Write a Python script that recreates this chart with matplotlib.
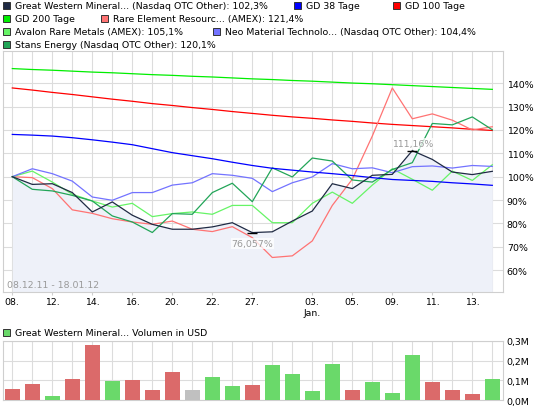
import matplotlib
matplotlib.use('Agg')
import matplotlib.pyplot as plt
from matplotlib.patches import Rectangle

W, H, DPI = 545, 410, 100

# ---------------- data ----------------
n_days = 25
tick_pos = [0, 2, 4, 6, 8, 10, 12, 15, 17, 19, 21, 23]
tick_labels = ['08.', '12.', '14.', '16.', '20.', '22.', '27.', '03.\nJan.', '05.', '09.', '11.', '13.']

great_western = [100, 96.7, 97.0, 93.2, 84.9, 89.2, 83.5, 79.6, 77.5, 77.5, 78.5, 80.3, 76.057,
                 76.4, 81.0, 85.3, 97.0, 94.9, 100.6, 101.0, 111.16, 107.4, 102.0, 100.9, 102.3]
rare_element = [100, 99.6, 94.9, 85.8, 84.3, 82.0, 80.6, 79.6, 81.0, 77.5, 76.5, 78.6, 73.9,
                65.4, 66.1, 72.5, 87.7, 98.9, 117.4, 138.0, 124.8, 126.9, 124.2, 120.0, 121.4]
avalon = [100, 102.4, 97.7, 92.5, 89.6, 87.0, 88.6, 82.9, 84.2, 84.9, 83.9, 87.7, 87.7,
          80.3, 80.3, 88.6, 93.4, 88.6, 96.4, 103.4, 98.9, 94.2, 102.4, 98.4, 105.1]
neo_material = [100, 103.4, 101.3, 98.1, 91.3, 89.9, 93.2, 93.2, 96.4, 97.4, 101.3, 100.6, 99.3,
                93.6, 97.4, 99.9, 105.6, 103.4, 103.8, 101.7, 104.3, 104.6, 103.7, 104.8, 104.4]
stans = [100, 94.6, 93.9, 92.0, 89.6, 83.2, 80.6, 76.1, 84.2, 83.9, 93.2, 97.2, 89.3,
         103.8, 99.9, 108.0, 106.7, 98.6, 97.7, 103.1, 106.0, 122.8, 122.2, 125.6, 120.1]
gd38 = [118.1, 117.8, 117.4, 116.7, 115.8, 114.8, 113.7, 112.0, 110.3, 109.0, 107.7, 106.2, 104.8,
        103.6, 102.8, 102.0, 101.3, 100.5, 99.6, 98.8, 98.4, 98.0, 97.4, 96.9, 96.3]
gd100 = [138.0, 137.1, 136.1, 135.2, 134.2, 133.2, 132.3, 131.3, 130.5, 129.6, 128.8, 127.9, 127.1,
         126.3, 125.6, 125.0, 124.3, 123.7, 123.0, 122.4, 121.9, 121.4, 120.9, 120.3, 119.8]
gd200 = [146.3, 145.9, 145.6, 145.2, 144.8, 144.5, 144.1, 143.7, 143.4, 143.0, 142.7, 142.3, 141.9,
         141.6, 141.2, 140.9, 140.5, 140.1, 139.8, 139.4, 139.0, 138.6, 138.2, 137.8, 137.4]

volume_musd = [0.058, 0.083, 0.023, 0.108, 0.278, 0.095, 0.103, 0.053, 0.140, 0.053, 0.115, 0.070, 0.075,
               0.178, 0.133, 0.045, 0.185, 0.053, 0.090, 0.038, 0.230, 0.090, 0.050, 0.033, 0.108]
volume_dir = ['down', 'down', 'up', 'down', 'down', 'up', 'down', 'down', 'down', 'flat', 'up', 'up', 'down',
              'up', 'up', 'up', 'up', 'down', 'up', 'up', 'up', 'down', 'down', 'down', 'up']

name_main = 'Great Western Mineral... (Nasdaq OTC Other): 102,3%'
name_gd38 = 'GD 38 Tage'
name_gd100 = 'GD 100 Tage'
name_gd200 = 'GD 200 Tage'
name_rare = 'Rare Element Resourc... (AMEX): 121,4%'
name_avalon = 'Avalon Rare Metals (AMEX): 105,1%'
name_neo = 'Neo Material Technolo... (Nasdaq OTC Other): 104,4%'
name_stans = 'Stans Energy (Nasdaq OTC Other): 120,1%'
name_volume = 'Great Western Mineral... Volumen in USD'
date_range = '08.12.11 - 18.01.12'

# ---------------- style ----------------
C_MAIN = '#1f2a44'
C_GD38 = '#0000ff'
C_GD100 = '#ff0000'
C_GD200 = '#00ee00'
C_RARE = '#ff7373'
C_AVALON = '#66f466'
C_NEO = '#7373ff'
C_STANS = '#22a558'
C_FILL = '#eef1f9'
C_GRID = '#dcdcdc'
C_FRAME = '#cfcfcf'
VOL_COL = {'down': '#db6a6a', 'up': '#6ad96a', 'flat': '#c0c0c0'}

plt.rcParams['font.family'] = ['DejaVu Sans']
fig = plt.figure(figsize=(W / DPI, H / DPI), dpi=DPI)
fig.patch.set_facecolor('white')

# fit font size to reference text width
renderer = fig.canvas.get_renderer()
_t = fig.text(0, 0, name_main, fontsize=10)
_w = _t.get_window_extent(renderer).width
_t.remove()
FS = 10 * 253.0 / _w


def px_x(x):
    return x / W


def px_y(y):
    return 1 - y / H


left_px, right_px = 2.7, 503.3
ax = fig.add_axes([px_x(left_px), px_y(292.7), (right_px - left_px) / W, (292.7 - 52.3) / H])
axv = fig.add_axes([px_x(left_px), px_y(401.2), (right_px - left_px) / W, (401.2 - 341.7) / H])

xs = list(range(n_days))

for a in (ax, axv):
    a.set_xlim(-0.48, 24.55)
    a.set_facecolor('white')
    for s in a.spines.values():
        s.set_color(C_FRAME)
        s.set_linewidth(0.8)
    a.set_xticks(xs, minor=True)
    a.grid(True, which='both', axis='x', color=C_GRID, lw=0.8)
    a.grid(True, which='major', axis='y', color=C_GRID, lw=0.8)
    a.set_axisbelow(True)
    a.yaxis.tick_right()
    a.tick_params(axis='y', length=0, pad=2.5, labelsize=FS, colors='black')
    a.tick_params(axis='x', which='minor', length=0)
    a.tick_params(axis='x', which='major', length=2.5, color=C_FRAME, width=0.8, pad=1.5,
                  labelsize=FS)

# price panel
ax.set_ylim(50.75, 153.7)
yt = list(range(60, 141, 10))
ax.set_yticks(yt)
ax.set_yticklabels([f'{v}%' for v in yt])
ax.set_xticks(tick_pos)
ax.set_xticklabels(tick_labels, linespacing=1.25)

ax.fill_between(xs, great_western, 50.75, color=C_FILL, lw=0, zorder=1)
LW = 0.9
ax.plot(xs, gd200, color=C_GD200, lw=LW, zorder=3)
ax.plot(xs, gd100, color=C_GD100, lw=LW, zorder=3)
ax.plot(xs, rare_element, color=C_RARE, lw=LW, zorder=3)
ax.plot(xs, avalon, color=C_AVALON, lw=LW, zorder=3)
ax.plot(xs, neo_material, color=C_NEO, lw=LW, zorder=3)
ax.plot(xs, stans, color=C_STANS, lw=LW, zorder=3)
ax.plot(xs, gd38, color=C_GD38, lw=LW, zorder=4)
ax.plot(xs, great_western, color=C_MAIN, lw=LW, zorder=5)

# min / max annotations
i_min = min(xs, key=lambda i: great_western[i])
i_max = max(xs, key=lambda i: great_western[i])
for i, dy in ((i_min, -8.0), (i_max, 5.0)):
    v = great_western[i]
    ax.plot([i], [v], marker='_', ms=6.5, mew=1.0, color='black', zorder=6)
    lab = f'{v:.3f}'.rstrip('0').rstrip('.').replace('.', ',') + '%'
    ax.annotate(lab, (i, v), xytext=(0, dy), textcoords='offset points', ha='center', va='center',
                fontsize=FS, color='#999999', zorder=7,
                bbox=dict(boxstyle='square,pad=0.08', fc='white', ec='none', alpha=0.75))

fig.text(px_x(7.3), px_y(285.5), date_range, fontsize=FS, color='#9a9a9a', ha='left', va='center')

# volume panel
axv.set_ylim(0, 0.3)
vt = [0.0, 0.1, 0.2, 0.3]
axv.set_yticks(vt)
axv.set_yticklabels([f'{v:.1f}'.replace('.', ',') + 'M' for v in vt])
axv.set_xticks([])
axv.bar(xs, volume_musd, width=0.75, color=[VOL_COL[d] for d in volume_dir], lw=0, zorder=3)

# legends
def legend_item(xsq, y, color, text):
    fig.patches.append(Rectangle((px_x(xsq), px_y(y + 3.6)), 7.2 / W, 7.2 / H, transform=fig.transFigure,
                                 facecolor=color, edgecolor='#333333', lw=0.7))
    fig.text(px_x(xsq + 12), px_y(y), text, fontsize=FS, color='black', ha='left', va='center')


legend_item(3.2, 6.3, C_MAIN, name_main)
legend_item(294, 6.3, C_GD38, name_gd38)
legend_item(393, 6.3, C_GD100, name_gd100)
legend_item(3.2, 19.3, C_GD200, name_gd200)
legend_item(101, 19.3, C_RARE, name_rare)
legend_item(3.2, 32.3, C_AVALON, name_avalon)
legend_item(213, 32.3, C_NEO, name_neo)
legend_item(3.2, 45.3, C_STANS, name_stans)
legend_item(3.2, 333.3, VOL_COL['up'], name_volume)

fig.savefig('out.png', dpi=DPI, facecolor='white')
